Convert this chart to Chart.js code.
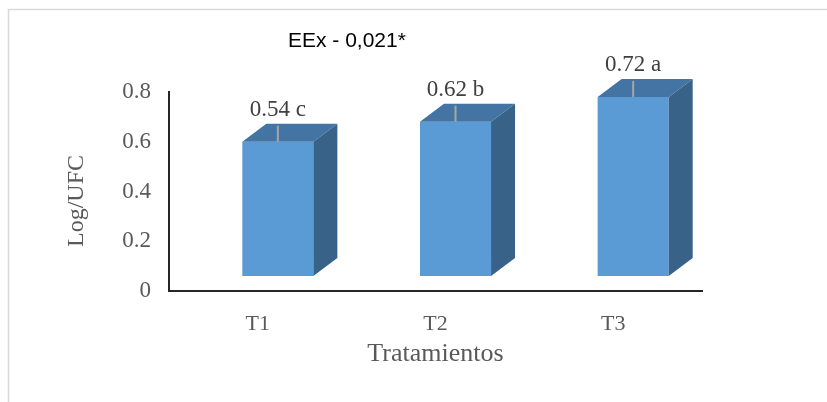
<!DOCTYPE html>
<html>
<head>
<meta charset="utf-8">
<script src="https://cdn.jsdelivr.net/npm/chart.js@4/dist/chart.umd.min.js"></script>
<style>
  html, body { margin: 0; padding: 0; background: #fff; }
  canvas { display: block; }
</style>
</head>
<body>
<canvas id="grafico-log" width="827" height="402"></canvas>
<script>
// Datos
const tratamientos = ['T1', 'T2', 'T3'];
const logUfc = [0.54, 0.62, 0.72];
const letras = ['c', 'b', 'a'];
const ticksY = [0, 0.2, 0.4, 0.6, 0.8];
const notaEEx = 'EEx - 0,021*';
const tituloY = 'Log/UFC';

const serif = "'Liberation Serif', 'Times New Roman', serif";
const frente = '#5b9bd5';
const techo = '#4474a3';
const lado = '#396289';

// profundidad del efecto 3D
const DX = 24, DY = -18;
const SHIFT_X = 20, SHIFT_Y = -15;

const barras3d = {
    id: 'barras3d',
    beforeDraw(chart) {
        const ctx = chart.ctx;
        ctx.save();
        ctx.strokeStyle = '#d9d9d9';
        ctx.lineWidth = 1.5;
        ctx.beginPath();
        ctx.moveTo(8.5, chart.height);
        ctx.lineTo(8.5, 9.5);
        ctx.lineTo(chart.width, 9.5);
        ctx.stroke();

        ctx.fillStyle = '#000';
        ctx.font = "21px 'Liberation Sans', Arial, sans-serif";
        ctx.textBaseline = 'middle';
        ctx.fillText(notaEEx, 288, 41);

        // titulo del eje Y
        ctx.translate(77, 201);
        ctx.rotate(-Math.PI / 2);
        ctx.fillStyle = '#595959';
        ctx.font = '24px ' + serif;
        ctx.textAlign = 'center';
        ctx.fillText(tituloY, 0, 0);
        ctx.restore();
    },
    beforeDatasetsDraw(chart) {
        chart.ctx.save();
        chart.ctx.translate(SHIFT_X, SHIFT_Y);
    },
    afterDatasetsDraw(chart) {
        const ctx = chart.ctx;
        ctx.restore();
        const meta = chart.getDatasetMeta(0);
        meta.data.forEach((bar, i) => {
            const p = bar.getProps(['x', 'y', 'base', 'width'], true);
            const L = p.x - p.width / 2 + SHIFT_X;
            const R = p.x + p.width / 2 + SHIFT_X;
            const T = p.y + SHIFT_Y;
            const B = p.base + SHIFT_Y;

            ctx.save();
            // cara superior
            ctx.fillStyle = techo;
            ctx.beginPath();
            ctx.moveTo(L, T);
            ctx.lineTo(R, T);
            ctx.lineTo(R + DX, T + DY);
            ctx.lineTo(L + DX, T + DY);
            ctx.closePath();
            ctx.fill();
            // cara lateral
            ctx.fillStyle = lado;
            ctx.beginPath();
            ctx.moveTo(R, T);
            ctx.lineTo(R + DX, T + DY);
            ctx.lineTo(R + DX, B + DY);
            ctx.lineTo(R, B);
            ctx.closePath();
            ctx.fill();

            // barra de error
            const cx = (L + R) / 2;
            ctx.strokeStyle = '#a6a6a6';
            ctx.lineWidth = 2;
            ctx.beginPath();
            ctx.moveTo(cx, T);
            ctx.lineTo(cx, T - 16);
            ctx.stroke();

            // etiqueta del valor
            ctx.fillStyle = '#404040';
            ctx.font = '23px ' + serif;
            ctx.textAlign = 'center';
            ctx.textBaseline = 'middle';
            ctx.fillText(logUfc[i].toFixed(2) + ' ' + letras[i], cx, T - 32);
            ctx.restore();
        });
    }
};

const ctx = document.getElementById('grafico-log').getContext('2d');
new Chart(ctx, {
    type: 'bar',
    data: {
        labels: tratamientos,
        datasets: [{
            label: 'Log/UFC',
            data: logUfc,
            backgroundColor: frente,
            borderWidth: 0,
            barPercentage: 0.4,
            categoryPercentage: 1
        }]
    },
    options: {
        responsive: false,
        animation: false,
        devicePixelRatio: 1,
        layout: { padding: { left: 0, top: 92, right: 125, bottom: 0 } },
        plugins: { legend: { display: false }, tooltip: { enabled: false } },
        scales: {
            x: {
                grid: { display: false, drawTicks: false },
                border: { display: true, color: '#262626', width: 2 },
                ticks: { color: '#595959', font: { family: serif, size: 22 }, padding: 20 },
                title: {
                    display: true, text: 'Tratamientos', color: '#595959',
                    font: { family: serif, size: 26 }, padding: { top: 0, bottom: 32 }
                },
                afterFit(scale) { scale.height = 111; }
            },
            y: {
                min: 0,
                max: 0.8,
                afterBuildTicks(scale) { scale.ticks = ticksY.map(v => ({ value: v })); },
                grid: { display: false, drawTicks: false },
                border: { display: true, color: '#262626', width: 2 },
                ticks: { color: '#595959', font: { family: serif, size: 23 }, padding: 18 },
                afterFit(scale) { scale.width = 169; }
            }
        }
    },
    plugins: [barras3d]
});
</script>
</body>
</html>
